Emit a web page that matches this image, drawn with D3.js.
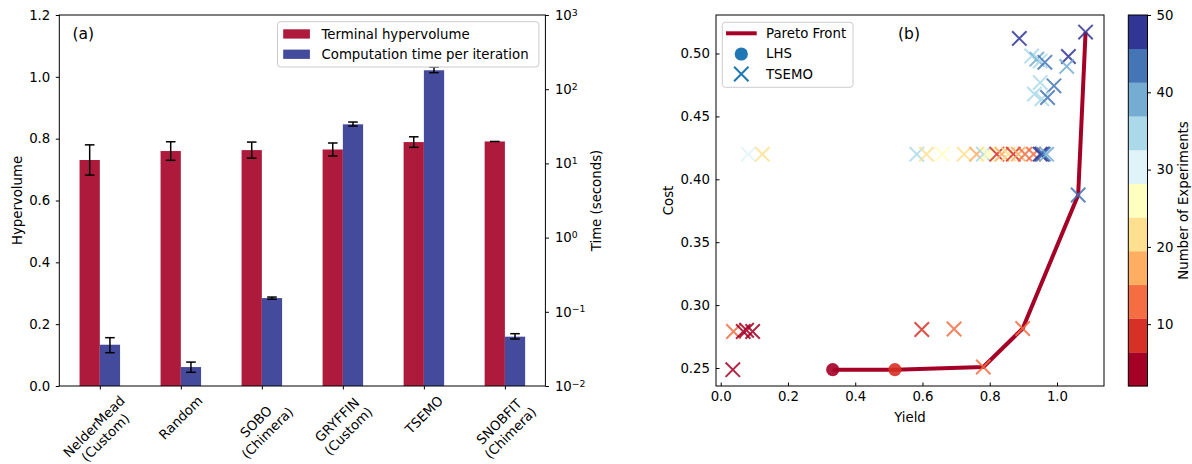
<!DOCTYPE html>
<html><head><meta charset="utf-8">
<script src="https://cdn.jsdelivr.net/npm/d3@7"></script>
<style>body{margin:0;background:#fff}svg{display:block}text{font-family:"DejaVu Sans",sans-serif;fill:#000}</style>
</head><body><svg id="c" width="1192" height="464"></svg>
<script>
// ---------- data (a) ----------
const categories = ["NelderMead\n(Custom)", "Random", "SOBO\n(Chimera)", "GRYFFIN\n(Custom)", "TSEMO", "SNOBFIT\n(Chimera)"];
const hypervolume = [0.731, 0.760, 0.763, 0.765, 0.789, 0.791];
const hypervolumeErr = [0.049, 0.030, 0.026, 0.021, 0.017, 0.0];
const timePerIter = [0.036, 0.018, 0.153, 33.6, 180, 0.0462];
const timeLow = [0.0281, 0.0153, 0.1475, 31.9, 167, 0.0430];
const timeHigh = [0.0448, 0.021, 0.158, 36.1, 199, 0.0507];
const hvTicks = [0, 0.2, 0.4, 0.6, 0.8, 1.0, 1.2];
const timeTicks = [1e-2, 1e-1, 1e0, 1e1, 1e2, 1e3];
const legendA = ["Terminal hypervolume", "Computation time per iteration"];

// ---------- data (b) ----------
const paretoYield = [0.333, 0.518, 0.781, 0.898, 1.063, 1.085];
const paretoCost = [0.2487, 0.2487, 0.2508, 0.2814, 0.3875, 0.517];
const lhsYield = [0.333, 0.518];
const lhsCost = [0.2487, 0.2487];
const lhsExp = [3, 8];
const tsemoYield = [0.036, 0.038, 0.067, 0.077, 0.095, 0.598, 0.694, 0.781, 0.898,
  0.082, 0.124, 0.583, 0.612, 0.659, 0.724, 0.761, 0.781, 0.790, 0.801, 0.821, 0.836, 0.855, 0.870, 0.885, 0.905, 0.930, 0.950, 0.955, 0.959, 0.969,
  0.888, 0.925, 0.940, 0.950, 0.964, 1.034, 1.029, 0.950, 0.991, 0.933, 0.955, 0.972, 1.063, 1.085];
const tsemoCost = [0.2487, 0.279, 0.279, 0.280, 0.279, 0.2806, 0.281, 0.2508, 0.2814,
  0.420, 0.420, 0.420, 0.420, 0.420, 0.420, 0.420, 0.420, 0.420, 0.420, 0.420, 0.420, 0.420, 0.420, 0.420, 0.420, 0.420, 0.420, 0.420, 0.420, 0.420,
  0.512, 0.498, 0.4955, 0.494, 0.493, 0.4976, 0.4897, 0.4769, 0.4743, 0.4677, 0.464, 0.465, 0.3875, 0.517];
const tsemoExp = [4, 12, 5, 2, 6, 9, 13, 14, 11,
  30, 21, 34, 22, 26, 20, 17, 33, 27, 25, 10, 18, 23, 7, 16, 15, 12, 47, 49, 43, 39,
  50, 35, 38, 36, 44, 48, 40, 34, 42, 36, 33, 45, 43, 46];
const expDomain = [2, 50];
const cbTicks = [10, 20, 30, 40, 50];
const xTicksB = [0.0, 0.2, 0.4, 0.6, 0.8, 1.0];
const yTicksB = [0.25, 0.30, 0.35, 0.40, 0.45, 0.50];
const legendB = ["Pareto Front", "LHS", "TSEMO"];

const FS = 13.3;
const svg = d3.select("#c");
const RED = "#ad1a3c", BLUE = "#454b9c";

// ================= Panel (a) =================
const A = {l: 59.3, r: 545.4, t: 15, b: 386};
const xA = d3.scalePoint().domain(categories).range([A.l, A.r]).padding(0.5);
const bw = xA.step() * 0.25;
const yA = d3.scaleLinear().domain([0, 1.2]).range([A.b, A.t]);
const yT = d3.scaleLog().domain([1e-2, 1e3]).range([A.b, A.t]);
const gA = svg.append("g");

gA.selectAll("rect.hv").data(categories).join("rect")
  .attr("x", d => xA(d) - bw).attr("width", bw)
  .attr("y", (d, i) => yA(hypervolume[i])).attr("height", (d, i) => yA(0) - yA(hypervolume[i]))
  .attr("fill", RED);
gA.selectAll("rect.tm").data(categories).join("rect")
  .attr("x", d => xA(d)).attr("width", bw)
  .attr("y", (d, i) => yT(timePerIter[i])).attr("height", (d, i) => yT(1e-2) - yT(timePerIter[i]))
  .attr("fill", BLUE);

function errbar(cx, y1, y2) {
  const g = gA.append("g").attr("stroke", "#000").attr("stroke-width", 1.5);
  g.append("line").attr("x1", cx).attr("x2", cx).attr("y1", y1).attr("y2", y2);
  g.append("line").attr("x1", cx - 4.8).attr("x2", cx + 4.8).attr("y1", y1).attr("y2", y1);
  if (Math.abs(y2 - y1) > 0.3)
    g.append("line").attr("x1", cx - 4.8).attr("x2", cx + 4.8).attr("y1", y2).attr("y2", y2);
}
categories.forEach((c, i) => {
  errbar(xA(c) - bw / 2, yA(hypervolume[i] + hypervolumeErr[i]), yA(hypervolume[i] - hypervolumeErr[i]));
  errbar(xA(c) + bw / 2, yT(timeHigh[i]), yT(timeLow[i]));
});

gA.append("rect").attr("x", A.l).attr("y", A.t).attr("width", A.r - A.l).attr("height", A.b - A.t)
  .attr("fill", "none").attr("stroke", "#000").attr("stroke-width", 1);

const axL = gA.append("g").attr("transform", `translate(${A.l},0)`)
  .call(d3.axisLeft(yA).tickValues(hvTicks).tickFormat(d3.format(".1f")).tickSize(3.5).tickPadding(5.5));
const axR = gA.append("g").attr("transform", `translate(${A.r},0)`)
  .call(d3.axisRight(yT).tickValues(timeTicks).tickSize(3.5).tickPadding(6).tickFormat(() => ""));
axR.selectAll(".tick text").each(function (d) {
  const t = d3.select(this);
  t.text("");
  t.append("tspan").text("10");
  t.append("tspan").attr("dy", "-0.45em").attr("font-size", FS * 0.7).text(String(Math.round(Math.log10(d))).replace("-", "\u2212"));
});
const axB = gA.append("g").attr("transform", `translate(0,${A.b})`)
  .call(d3.axisBottom(xA).tickSize(3.5).tickFormat(() => ""));
[axL, axR, axB].forEach(a => {
  a.select(".domain").remove();
  a.selectAll("text").attr("font-size", FS).attr("font-family", "DejaVu Sans");
  a.selectAll("line").attr("stroke", "#000");
});
categories.forEach(c => {
  const outer = gA.append("g").attr("transform", `translate(${xA(c)},0)`);
  const mid = outer.append("g");
  const inner = mid.append("g").attr("transform", "rotate(-45)");
  c.split("\n").forEach((ln, k) => {
    inner.append("text").attr("text-anchor", "middle").attr("font-size", FS)
      .attr("y", k * FS * 1.2).text(ln);
  });
  const bb = mid.node().getBBox();
  mid.attr("transform", `translate(${-(bb.x + bb.width / 2)},${A.b + 7 - bb.y})`);
});

gA.append("text").attr("transform", `translate(17,${(A.t + A.b) / 2}) rotate(-90)`)
  .attr("text-anchor", "middle").attr("dy", "0.35em").attr("font-size", FS).text("Hypervolume");
gA.append("text").attr("transform", `translate(596,${(A.t + A.b) / 2}) rotate(-90)`)
  .attr("text-anchor", "middle").attr("dy", "0.35em").attr("font-size", FS).text("Time (seconds)");
gA.append("text").attr("x", 72.5).attr("y", 34).attr("dy", "0.35em").attr("font-size", 15.5).text("(a)");

const lgA = gA.append("g");
lgA.append("rect").attr("x", 277.5).attr("y", 21.7).attr("width", 261.4).attr("height", 45.3)
  .attr("rx", 3).attr("fill", "#fff").attr("fill-opacity", 0.8).attr("stroke", "#cccccc");
[RED, BLUE].forEach((col, k) => {
  const cy = 34 + k * 20.3;
  lgA.append("rect").attr("x", 283.2).attr("y", cy - 4.7).attr("width", 26.7).attr("height", 9.3).attr("fill", col);
  lgA.append("text").attr("x", 321.5).attr("y", cy).attr("dy", "0.35em").attr("font-size", FS).text(legendA[k]);
});

// ================= Panel (b) =================
const B = {l: 716, r: 1104, t: 15, b: 386};
const xB = d3.scaleLinear().domain([-0.014, 1.1398]).range([B.l, B.r]);
const yB = d3.scaleLinear().domain([0.2357, 0.5306]).range([B.b, B.t]);
const colors = d3.schemeRdYlBu[11];
const cScale = d3.scaleQuantize().domain(expDomain).range(colors);
const gB = svg.append("g");

gB.append("path").datum(paretoYield.map((x, i) => [x, paretoCost[i]]))
  .attr("d", d3.line().x(d => xB(d[0])).y(d => yB(d[1])))
  .attr("fill", "none").attr("stroke", "#a50026").attr("stroke-width", 4).attr("stroke-linejoin", "round");

gB.selectAll("circle.lhs").data(lhsYield).join("circle")
  .attr("cx", d => xB(d)).attr("cy", (d, i) => yB(lhsCost[i])).attr("r", 6.6)
  .attr("fill", (d, i) => cScale(lhsExp[i])).attr("fill-opacity", 0.9);

const xs = 7.2;
gB.selectAll("path.ts").data(tsemoYield).join("path")
  .attr("transform", (d, i) => `translate(${xB(d)},${yB(tsemoCost[i])})`)
  .attr("d", `M${-xs},${-xs}L${xs},${xs}M${-xs},${xs}L${xs},${-xs}`)
  .attr("stroke", (d, i) => cScale(tsemoExp[i])).attr("stroke-width", 2).attr("stroke-opacity", 0.85).attr("fill", "none");

gB.append("rect").attr("x", B.l).attr("y", B.t).attr("width", B.r - B.l).attr("height", B.b - B.t)
  .attr("fill", "none").attr("stroke", "#000").attr("stroke-width", 1);
const bx = gB.append("g").attr("transform", `translate(0,${B.b})`)
  .call(d3.axisBottom(xB).tickValues(xTicksB).tickFormat(d3.format(".1f")).tickSize(-3.5).tickPadding(5.5));
const by = gB.append("g").attr("transform", `translate(${B.l},0)`)
  .call(d3.axisLeft(yB).tickValues(yTicksB).tickFormat(d3.format(".2f")).tickSize(-3.5).tickPadding(6));
[bx, by].forEach(a => {
  a.select(".domain").remove();
  a.selectAll("text").attr("font-size", FS).attr("font-family", "DejaVu Sans");
  a.selectAll("line").attr("stroke", "#000");
});
gB.append("text").attr("x", (B.l + B.r) / 2).attr("y", 417).attr("dy", "0.35em")
  .attr("text-anchor", "middle").attr("font-size", FS).text("Yield");
gB.append("text").attr("transform", `translate(668,${(B.t + B.b) / 2}) rotate(-90)`)
  .attr("text-anchor", "middle").attr("dy", "0.35em").attr("font-size", FS).text("Cost");
gB.append("text").attr("x", 898).attr("y", 33.3).attr("dy", "0.35em").attr("font-size", 15.5).text("(b)");

const lgB = gB.append("g");
lgB.append("rect").attr("x", 722.3).attr("y", 22.3).attr("width", 130.7).attr("height", 65)
  .attr("rx", 3).attr("fill", "#fff").attr("fill-opacity", 0.8).attr("stroke", "#cccccc");
lgB.append("line").attr("x1", 726).attr("x2", 756.7).attr("y1", 33.3).attr("y2", 33.3)
  .attr("stroke", "#a50026").attr("stroke-width", 4);
lgB.append("circle").attr("cx", 741.3).attr("cy", 54).attr("r", 6.6).attr("fill", "#1f77b4");
lgB.append("path").attr("transform", "translate(741.3,74)")
  .attr("d", `M${-xs},${-xs}L${xs},${xs}M${-xs},${xs}L${xs},${-xs}`)
  .attr("stroke", "#1f77b4").attr("stroke-width", 2);
legendB.forEach((t, k) => {
  lgB.append("text").attr("x", 766).attr("y", 33.5 + k * 20.3).attr("dy", "0.35em").attr("font-size", FS).text(t);
});

const CB = {l: 1128.3, r: 1147.5, t: 15, b: 386};
const yC = d3.scaleLinear().domain(expDomain).range([CB.b, CB.t]);
const binW = (expDomain[1] - expDomain[0]) / colors.length;
gB.selectAll("rect.cb").data(colors).join("rect")
  .attr("x", CB.l).attr("width", CB.r - CB.l)
  .attr("y", (d, i) => yC(expDomain[0] + (i + 1) * binW))
  .attr("height", (d, i) => yC(expDomain[0] + i * binW) - yC(expDomain[0] + (i + 1) * binW) + 0.3)
  .attr("fill", d => d);
gB.append("rect").attr("x", CB.l).attr("y", CB.t).attr("width", CB.r - CB.l).attr("height", CB.b - CB.t)
  .attr("fill", "none").attr("stroke", "#000").attr("stroke-width", 1);
const cb = gB.append("g").attr("transform", `translate(${CB.r},0)`)
  .call(d3.axisRight(yC).tickValues(cbTicks).tickSize(3.5).tickPadding(5.5));
cb.select(".domain").remove();
cb.selectAll("text").attr("font-size", FS).attr("font-family", "DejaVu Sans");
cb.selectAll("line").attr("stroke", "#000");
gB.append("text").attr("transform", `translate(1183,${(CB.t + CB.b) / 2}) rotate(-90)`)
  .attr("text-anchor", "middle").attr("dy", "0.35em").attr("font-size", FS).text("Number of Experiments");
</script></body></html>
